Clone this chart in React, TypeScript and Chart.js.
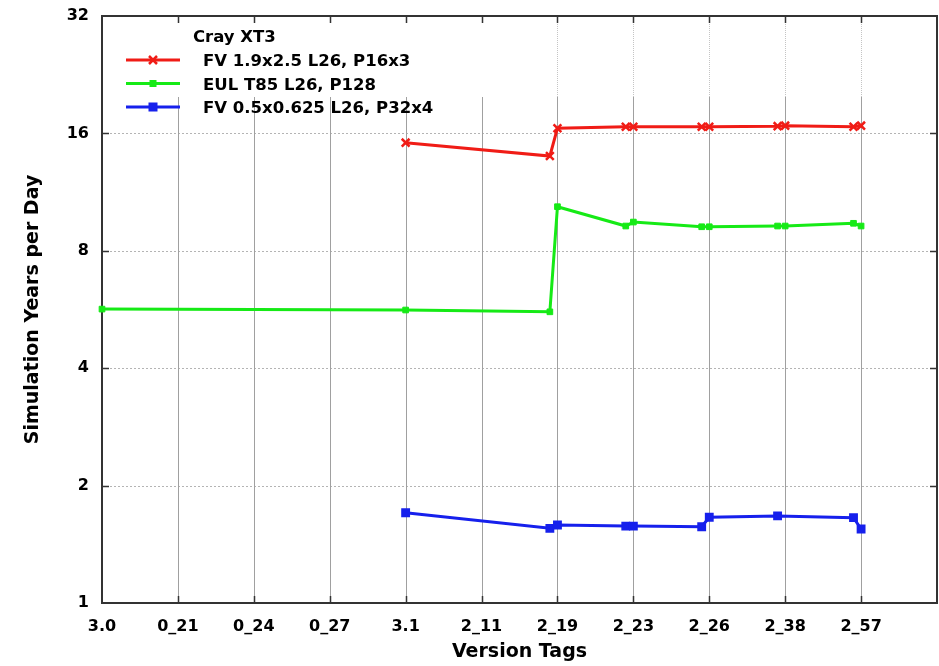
import React, { useEffect, useRef } from 'react';
import { Chart, registerables } from 'chart.js';

Chart.register(...registerables);

// Version tags along the x axis (one per integer position, last slot left blank)
const versionTags = ['3.0', '0_21', '0_24', '0_27', '3.1', '2_11', '2_19', '2_23', '2_26', '2_38', '2_57', ''];
const yTickValues = [1, 2, 4, 8, 16, 32];

const legendTitle = 'Cray XT3';
const seriesNames = ['FV 1.9x2.5 L26, P16x3', 'EUL T85 L26, P128', 'FV 0.5x0.625 L26, P32x4'];
const seriesColors = ['rgb(240,28,22)', 'rgb(22,234,22)', 'rgb(22,32,236)'];

// FV 1.9x2.5 L26, P16x3
const fvCoarseX = [4, 5.9, 6, 6.9, 7, 7.9, 8, 8.9, 9, 9.9, 10];
const fvCoarseY = [15.15, 14.0, 16.5, 16.65, 16.65, 16.65, 16.65, 16.7, 16.75, 16.65, 16.75];

// EUL T85 L26, P128
const eulX = [0, 4, 5.9, 6, 6.9, 7, 7.9, 8, 8.9, 9, 9.9, 10];
const eulY = [5.67, 5.64, 5.58, 10.38, 9.26, 9.48, 9.22, 9.22, 9.26, 9.26, 9.41, 9.26];

// FV 0.5x0.625 L26, P32x4
const fvFineX = [4, 5.9, 6, 6.9, 7, 7.9, 8, 8.9, 9.9, 10];
const fvFineY = [1.704, 1.554, 1.585, 1.575, 1.575, 1.569, 1.659, 1.672, 1.655, 1.548];

const FONT = 'DejaVu Sans';
const LEGEND_RIGHT = 500;
const LEGEND_BOTTOM = 97;

const toPoints = (xs: number[], ys: number[]) => xs.map((x, i) => ({ x, y: ys[i] }));

function drawMarker(ctx: CanvasRenderingContext2D, style: string, cx: number, cy: number, color: string) {
  ctx.save();
  ctx.strokeStyle = color;
  ctx.fillStyle = color;
  if (style === 'crossRot') {
    ctx.lineWidth = 2.5;
    ctx.beginPath();
    ctx.moveTo(cx - 4, cy - 4);
    ctx.lineTo(cx + 4, cy + 4);
    ctx.moveTo(cx + 4, cy - 4);
    ctx.lineTo(cx - 4, cy + 4);
    ctx.stroke();
  } else if (style === 'small') {
    ctx.fillRect(cx - 3.5, cy - 3.5, 7, 7);
  } else {
    ctx.fillRect(cx - 4.5, cy - 4.5, 9, 9);
  }
  ctx.restore();
}

const framePlugin = {
  id: 'gnuFrame',
  beforeDatasetsDraw(chart: any) {
    const { ctx, chartArea, scales } = chart;
    const { left, right, top, bottom } = chartArea;
    const xs = scales.x;
    const ys = scales.y;
    ctx.save();

    // dotted horizontal grid
    ctx.strokeStyle = '#b4b4b4';
    ctx.lineWidth = 1;
    ctx.setLineDash([2, 2]);
    yTickValues.slice(1, -1).forEach((v) => {
      const py = Math.round(ys.getPixelForValue(v)) + 0.5;
      ctx.beginPath();
      ctx.moveTo(left, py);
      ctx.lineTo(right, py);
      ctx.stroke();
    });

    // vertical grid
    for (let i = 1; i < versionTags.length - 1; i++) {
      const px = Math.round(xs.getPixelForValue(i)) + 0.5;
      ctx.setLineDash([]);
      ctx.strokeStyle = '#a0a0a0';
      ctx.beginPath();
      ctx.moveTo(px, LEGEND_BOTTOM);
      ctx.lineTo(px, bottom);
      ctx.stroke();
      if (px > LEGEND_RIGHT) {
        ctx.strokeStyle = '#c4c4c4';
        ctx.setLineDash([1, 1]);
        ctx.beginPath();
        ctx.moveTo(px, top);
        ctx.lineTo(px, LEGEND_BOTTOM);
        ctx.stroke();
      }
    }
    ctx.setLineDash([]);

    // key area
    ctx.fillStyle = '#ffffff';
    ctx.fillRect(left + 1, top + 1, LEGEND_RIGHT - left, LEGEND_BOTTOM - top - 1);

    // border and inward tick marks
    ctx.strokeStyle = '#333333';
    ctx.lineWidth = 1.5;
    ctx.beginPath();
    for (let i = 1; i < versionTags.length - 1; i++) {
      const px = Math.round(xs.getPixelForValue(i)) + 0.5;
      ctx.moveTo(px, top);
      ctx.lineTo(px, top + 7);
      ctx.moveTo(px, bottom);
      ctx.lineTo(px, bottom - 7);
    }
    yTickValues.slice(1, -1).forEach((v) => {
      const py = Math.round(ys.getPixelForValue(v)) + 0.5;
      ctx.moveTo(left, py);
      ctx.lineTo(left + 7, py);
      ctx.moveTo(right, py);
      ctx.lineTo(right - 7, py);
    });
    ctx.stroke();
    ctx.lineWidth = 2;
    ctx.strokeRect(left, top, right - left, bottom - top);
    ctx.restore();
  },
  afterDatasetsDraw(chart: any) {
    const { ctx } = chart;
    ctx.save();
    ctx.fillStyle = '#000';
    ctx.font = `bold 16.5px "${FONT}"`;
    ctx.textBaseline = 'alphabetic';
    ctx.textAlign = 'left';
    ctx.fillText(legendTitle, 193, 41.5);
    const rowY = [60, 83.5, 107];
    const markers = ['crossRot', 'small', 'square'];
    chart.data.datasets.forEach((ds: any, i: number) => {
      const y = rowY[i];
      ctx.strokeStyle = ds.borderColor;
      ctx.lineWidth = 3;
      ctx.beginPath();
      ctx.moveTo(126, y);
      ctx.lineTo(180, y);
      ctx.stroke();
      drawMarker(ctx, markers[i], 153, y, ds.borderColor);
      ctx.fillStyle = '#000';
      ctx.fillText(ds.label, 203, y + 6);
    });
    ctx.restore();
  },
};

export default function App() {
  const canvasRef = useRef<HTMLCanvasElement | null>(null);

  useEffect(() => {
    document.body.style.margin = '0';
    const canvas = canvasRef.current;
    if (!canvas) return;
    Chart.defaults.font.family = FONT;

    const chart = new Chart(canvas, {
      type: 'line',
      data: {
        datasets: [
          {
            label: seriesNames[0],
            data: toPoints(fvCoarseX, fvCoarseY),
            borderColor: seriesColors[0],
            backgroundColor: seriesColors[0],
            borderWidth: 3,
            pointStyle: 'crossRot',
            pointRadius: 5.5,
            pointBorderWidth: 2.5,
            pointBorderColor: seriesColors[0],
            clip: false,
          },
          {
            label: seriesNames[1],
            data: toPoints(eulX, eulY),
            borderColor: seriesColors[1],
            backgroundColor: seriesColors[1],
            borderWidth: 3,
            pointStyle: 'rect',
            pointRadius: 4,
            pointBorderWidth: 1,
            pointBackgroundColor: seriesColors[1],
            pointBorderColor: seriesColors[1],
            clip: false,
          },
          {
            label: seriesNames[2],
            data: toPoints(fvFineX, fvFineY),
            borderColor: seriesColors[2],
            backgroundColor: seriesColors[2],
            borderWidth: 3,
            pointStyle: 'rect',
            pointRadius: 5.2,
            pointBorderWidth: 1.5,
            pointBackgroundColor: seriesColors[2],
            pointBorderColor: seriesColors[2],
            clip: false,
          },
        ],
      },
      options: {
        responsive: false,
        animation: false,
        devicePixelRatio: 1,
        layout: { autoPadding: false, padding: { left: 0, right: 2, top: 16, bottom: 0 } },
        plugins: {
          legend: { display: false },
          tooltip: { enabled: false },
        },
        elements: { line: { tension: 0 } },
        scales: {
          x: {
            type: 'linear',
            min: 0,
            max: 11,
            grid: { display: false, drawTicks: false },
            border: { display: false },
            ticks: {
              stepSize: 1,
              autoSkip: false,
              maxRotation: 0,
              padding: 14,
              color: '#000',
              font: { family: FONT, size: 16, weight: 'bold' },
              callback: (v: any) => versionTags[Number(v)] ?? '',
            },
            title: {
              display: true,
              text: 'Version Tags',
              color: '#000',
              font: { family: FONT, size: 19, weight: 'bold' },
              padding: { top: 0, bottom: 3 },
            },
            afterFit: (scale: any) => {
              scale.height = 63;
              scale.paddingLeft = 0;
              scale.paddingRight = 0;
            },
          },
          y: {
            type: 'logarithmic',
            min: 1,
            max: 32,
            grid: { display: false, drawTicks: false },
            border: { display: false },
            afterBuildTicks: (scale: any) => {
              scale.ticks = yTickValues.map((value) => ({ value }));
            },
            ticks: {
              padding: 13,
              color: '#000',
              font: { family: FONT, size: 16, weight: 'bold' },
              callback: (v: any) => String(v),
            },
            title: {
              display: true,
              text: 'Simulation Years per Day',
              color: '#000',
              font: { family: FONT, size: 19, weight: 'bold' },
              padding: { top: 22, bottom: 0 },
            },
            afterFit: (scale: any) => {
              scale.width = 102;
              scale.paddingTop = 0;
              scale.paddingBottom = 0;
            },
          },
        },
      },
      plugins: [framePlugin],
    } as any);

    return () => chart.destroy();
  }, []);

  return (
    <div style={{ position: 'absolute', left: 0, top: 0, width: 939, height: 666, background: '#fff' }}>
      <canvas ref={canvasRef} width={939} height={666} />
    </div>
  );
}
